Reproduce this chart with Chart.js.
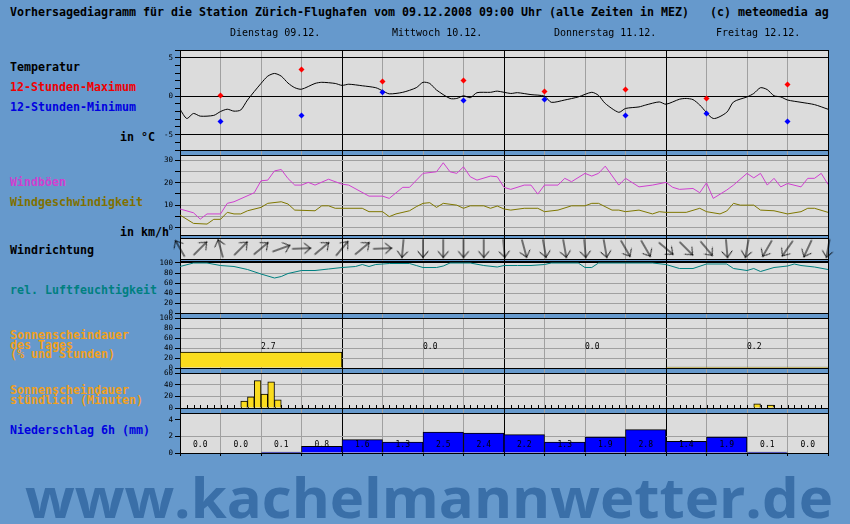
<!DOCTYPE html>
<html><head><meta charset="utf-8">
<script src="https://cdn.jsdelivr.net/npm/chart.js@4.4.1/dist/chart.umd.min.js"></script>
<style>
html,body{margin:0;padding:0;background:#6699CC;}
#wrap{position:relative;width:850px;height:524px;background:#6699CC;overflow:hidden;font-family:"DejaVu Sans Mono",monospace;}
#wrap canvas{position:absolute;}
.lbl{position:absolute;font-family:"DejaVu Sans Mono",monospace;font-weight:bold;font-size:11.63px;line-height:14px;white-space:pre;}
.day{position:absolute;font-family:"DejaVu Sans Mono",monospace;font-size:10px;line-height:12px;white-space:pre;color:#000;top:27px;}
#wm{position:absolute;left:25px;top:468px;font-family:"Open Sans",sans-serif;font-weight:700;font-size:56px;line-height:56px;color:#3A6FA8;white-space:nowrap;transform-origin:0 0;}
</style></head><body>
<div id="wrap">
<div class="lbl" style="left:10px;top:5px;color:#000">Vorhersagediagramm für die Station Zürich-Flughafen vom 09.12.2008 09:00 Uhr (alle Zeiten in MEZ)   (c) meteomedia ag</div>
<div class="lbl" style="left:10px;top:60px;color:#000">Temperatur</div>
<div class="lbl" style="left:10px;top:80px;color:#F00000">12-Stunden-Maximum</div>
<div class="lbl" style="left:10px;top:100px;color:#0000E0">12-Stunden-Minimum</div>
<div class="lbl" style="left:120px;top:130px;color:#000">in °C</div>
<div class="lbl" style="left:10px;top:175px;color:#D040D0">Windböen</div>
<div class="lbl" style="left:10px;top:195px;color:#807000">Windgeschwindigkeit</div>
<div class="lbl" style="left:120px;top:225px;color:#000">in km/h</div>
<div class="lbl" style="left:10px;top:243px;color:#000">Windrichtung</div>
<div class="lbl" style="left:10px;top:283px;color:#008080">rel. Luftfeuchtigkeit</div>
<div class="lbl" style="left:10px;top:331px;color:#F0A020;line-height:9.7px">Sonnenscheindauer<br>des Tages<br>(% und Stunden)</div>
<div class="lbl" style="left:10px;top:386px;color:#F0A020;line-height:9.5px">Sonnenscheindauer<br>stündlich (Minuten)</div>
<div class="lbl" style="left:10px;top:423px;color:#0000E0">Niederschlag 6h (mm)</div>
<div id="wm">www.kachelmannwetter.de</div>
</div>
<script>
// ---------------- data ----------------
const tickLabels = ['01','07','13','19'];
const dayNames = ['Dienstag 09.12.','Mittwoch 10.12.','Donnerstag 11.12.','Freitag 12.12.'];

const tempHours = [0,1,2,3,5,6,7,8,9,10,12,13,14,15,16,17,18,20,21,23,24,25,27,29,30,31,33,35,36,37,38,40,41,42,43,44,46,47,49,50,52,54,55,57,59,61,62,63,65,66,68,69,71,72,74,75,76,77,79,81,82,84,85,86,87,88,89,90,92,94,96];
const temp      = [-1.7,-2.9,-2.25,-2.6,-2.5,-2.0,-1.7,-1.95,-1.8,-0.5,1.65,2.6,2.95,2.6,1.7,1.1,0.9,1.65,1.8,1.65,1.4,1.55,1.35,1.1,0.7,0.3,0.5,1.1,1.8,1.65,0.8,-0.3,-0.3,0.05,-0.2,0.45,0.5,0.65,0.35,0.45,0.2,0,-0.8,-0.5,-0.1,0.5,0.1,-0.95,-2.1,-1.6,-1.4,-1.15,-0.75,-1.05,-0.4,-0.3,-0.45,-1.15,-2.9,-2.1,-0.75,-0.1,0.35,1.1,0.85,0.05,-0.1,-0.5,-0.8,-1.1,-1.7];
const extHours = [6,18,30,42,54,66,78,90];
const tMax = [0.1,3.45,1.9,2.05,0.6,0.85,-0.3,1.5];
const tMin = [-3.3,-2.5,0.5,-0.55,-0.45,-2.5,-2.25,-3.3];

const gustHours = [0,2,3,4,6,7,8,11,12,13,14,15,16,17,18,19,20,22,24,25,28,30,31,33,34,36,38,39,40,41,42,43,44,46,47,48,49,51,52,53,54,56,57,58,60,61,62,63,65,66,68,70,72,73,74,76,77,78,79,81,82,84,85,86,87,88,89,90,92,93,94,95,96];
const gust      = [8.3,6.6,3.8,6.1,6.1,10.8,11.5,15.5,20.8,21.1,25.2,25.8,21.8,18.9,18.9,20.1,18.9,21.5,19.3,18.9,14,14,13,17.9,17.9,24.1,24.8,28.8,24.8,24.1,27,22.6,21.1,22.9,22.6,17.9,17,18.9,18.9,14.9,18.9,18.9,21.9,20.4,24.1,22.9,24.1,27.3,18.9,21.9,18.1,18.9,20.1,17.9,17,17.4,15.5,19.9,13,16.7,18.9,24.1,22.1,24.1,18.9,21.9,18.1,19.6,18.1,21.9,21.9,24.1,19.2];
const windHours = [0,2,4,5,6,7,8,9,10,12,13,15,16,17,20,21,22,23,27,28,30,31,32,34,35,36,37,38,39,41,42,43,45,46,47,48,49,51,53,54,56,58,60,61,62,64,65,66,68,70,71,72,75,77,78,80,81,82,83,85,86,88,90,92,93,94,96];
const wind      = [5.6,1.9,1.6,3.7,3.7,6.8,6.1,6.1,7.5,9,10.8,11.5,10.5,7.8,7.5,9.7,9.7,8.6,8.6,7.1,7.1,4.9,6.1,7.5,9.3,10.8,11.1,9,10.8,10,8.6,9.7,9.7,8.6,9.6,8.3,7.8,8.6,8.6,7.1,7.8,9.7,9.7,10.8,10.8,7.8,7.8,7.1,7.8,6.1,7.1,6.8,6.8,8.6,7.1,6.1,7.4,10.8,10,10,7.8,7.5,6.1,7.1,8.6,8.6,6.8];
// wind direction (degrees, "from"), every 3 hours
const dirFrom = [150,225,165,225,230,250,268,230,220,230,268,5,0,0,0,0,355,345,350,350,355,350,330,330,310,315,320,355,10,30,35,25,10];

const humHours = [0,2,4,6,8,10,12,14,15,16,18,20,22,24,26,27,28,29,31,34,35,36,38,39,40,43,45,47,48,50,52,54,55,59,60,61,62,70,72,74,76,78,81,82,84,85,86,88,90,91,92,94,96];
const hum      = [93,100,100,95,93,87,78,70,73,79,85,85,88,91,93,97,93,97,99,99,95,91,91,94,100,100,95,92,95,95,95,97,100,100,91,91,100,100,97,89,89,98,98,89,85,89,83,91,94,98,95,92,87];

const sunDayHours = [2.7,0.0,0.0,0.2];
const sunDayPct   = [32,0,0,2];
const sunHourX   = [9.5,10.5,11.5,12.5,13.5,14.5,85.5,87.5];
const sunHourMin = [12,19,47,24,45,14,7,5];

const precip = [0.0,0.0,0.1,0.8,1.6,1.3,2.5,2.4,2.2,1.3,1.9,2.8,1.4,1.9,0.1,0.0];

// ---------------- layout helpers ----------------
const wrap = document.getElementById('wrap');
const PAD = 8;
const CW = 710, CL = 130;
function panelCanvas(T, B) {
  const c = document.createElement('canvas');
  const h = B - T + 2 * PAD;
  c.width = CW; c.height = h;
  c.style.left = CL + 'px'; c.style.top = (T - PAD) + 'px';
  c.style.width = CW + 'px'; c.style.height = h + 'px';
  wrap.appendChild(c);
  return c;
}
const MONO = 'DejaVu Sans Mono';
const gridX = c => (c.tick && c.tick.value % 24 === 0) ? '#000000' : '#A0A0A0';
function xPanel() {
  return {type:'linear', min:0, max:96, offset:false,
    ticks:{display:false, stepSize:6, autoSkip:false},
    grid:{color:gridX, drawTicks:false, offset:false, lineWidth:1},
    border:{display:false},
    afterFit(s){ s.height = 0; }};
}
function yPanel(min, max, step, labelFn, gridFn) {
  return {min, max,
    ticks:{stepSize:step, includeBounds:false, autoSkip:false, font:{family:MONO, size:7.5}, color:'#000', padding:2, callback:labelFn},
    grid:{color:gridFn, tickColor:'#000', tickLength:5, drawTicks:true, lineWidth:1},
    border:{display:true, color:'#000'},
    afterFit(s){ s.width = 50; }};
}
function opts(x, y, padLeft) {
  return {responsive:false, maintainAspectRatio:false, animation:false, events:[],
    layout:{padding:{left:padLeft || 0, right:12, top:PAD, bottom:PAD}},
    plugins:{legend:{display:false}, tooltip:{enabled:false}},
    scales:{x, y}};
}
const panelPlugin = {
  id:'panelBg',
  beforeDraw(chart){
    const {ctx, chartArea:a} = chart;
    ctx.save(); ctx.fillStyle = '#DCDCDC';
    ctx.fillRect(a.left, a.top, a.right - a.left, a.bottom - a.top);
    ctx.restore();
  },
  afterDraw(chart){
    const {ctx, chartArea:a} = chart;
    ctx.save(); ctx.strokeStyle = '#000'; ctx.lineWidth = 1;
    ctx.beginPath();
    ctx.moveTo(a.left, Math.round(a.top) + 0.5); ctx.lineTo(a.right + 1, Math.round(a.top) + 0.5);
    ctx.moveTo(a.left, Math.round(a.bottom) + 0.5); ctx.lineTo(a.right + 1, Math.round(a.bottom) + 0.5);
    ctx.stroke(); ctx.restore();
  }
};
function textPlugin(xs, texts, yVal, align) {
  return {id:'vals', afterDatasetsDraw(chart){
    const {ctx, scales:{x, y}} = chart;
    ctx.save(); ctx.font = '8px "' + MONO + '"'; ctx.fillStyle = '#000';
    ctx.textAlign = align; ctx.textBaseline = 'middle';
    xs.forEach((h, i) => ctx.fillText(texts[i], x.getPixelForValue(h), y.getPixelForValue(yVal)));
    ctx.restore();
  }};
}
const hourTicks = {id:'hticks', beforeDatasetsDraw(chart){
  const {ctx, scales:{x}, chartArea:a} = chart;
  ctx.save(); ctx.strokeStyle = '#000'; ctx.lineWidth = 1; ctx.beginPath();
  for (let h = 0; h <= 96; h++) {
    const px = Math.round(x.getPixelForValue(h)) + 0.5;
    ctx.moveTo(px, a.bottom); ctx.lineTo(px, a.bottom - 3);
  }
  ctx.stroke(); ctx.restore();
}};
const pts = (xs, ys) => xs.map((x, i) => ({x, y: ys[i]}));

// ---------------- frame (time axis + vertical lines through gaps) ----------------
const frame = document.createElement('canvas');
frame.width = CW; frame.height = 524;
frame.style.left = CL + 'px'; frame.style.top = '0px';
frame.style.width = CW + 'px'; frame.style.height = '524px';
wrap.appendChild(frame);
new Chart(frame, {
  type:'line', data:{datasets:[]},
  options:{responsive:false, maintainAspectRatio:false, animation:false, events:[],
    layout:{padding:{left:50, right:12, top:50, bottom:70}},
    plugins:{legend:{display:false}, tooltip:{enabled:false}},
    scales:{
      x:{type:'linear', position:'top', min:0, max:96, offset:false,
        ticks:{stepSize:6, autoSkip:false, maxRotation:0, padding:2, font:{family:MONO, size:7}, color:'#000',
          callback:v => tickLabels[(v / 6) % 4]},
        grid:{color:gridX, drawTicks:false},
        border:{display:false},
        afterFit(s){ s.height = 0; }},
      y:{display:false, min:0, max:1}
    }}
});

// day names
dayNames.forEach((d, i) => {
  const el = document.createElement('div');
  el.className = 'day'; el.textContent = d;
  el.style.left = (180 + 162 * i + 50) + 'px';
  wrap.appendChild(el);
});

// ---------------- temperature ----------------
new Chart(panelCanvas(50, 150), {
  type:'line',
  data:{datasets:[
    {data:pts(extHours, tMax), showLine:false, pointStyle:'rectRot', pointRadius:3, backgroundColor:'#FF0000', borderColor:'#FF0000', pointBorderWidth:0},
    {data:pts(extHours, tMin), showLine:false, pointStyle:'rectRot', pointRadius:3, backgroundColor:'#0000FF', borderColor:'#0000FF', pointBorderWidth:0},
    {data:pts(tempHours, temp), borderColor:'#000', borderWidth:1, pointRadius:0, tension:0.25}
  ]},
  options:opts(xPanel(), yPanel(-7, 6, 1, v => v % 5 === 0 ? String(v) : '', c => c.tick.value % 5 === 0 ? '#000' : 'rgba(0,0,0,0)')),
  plugins:[panelPlugin]
});

// ---------------- wind ----------------
new Chart(panelCanvas(155, 235), {
  type:'line',
  data:{datasets:[
    {data:pts(gustHours, gust), borderColor:'#D040D0', borderWidth:1, pointRadius:0, tension:0},
    {data:pts(windHours, wind), borderColor:'#807800', borderWidth:1, pointRadius:0, tension:0}
  ]},
  options:opts(xPanel(), yPanel(-3.25, 32.25, 5, v => v % 10 === 0 ? String(v) : '', () => '#A0A0A0')),
  plugins:[panelPlugin]
});

// ---------------- wind direction ----------------
const arrow = document.createElement('canvas');
arrow.width = 24; arrow.height = 24;
(() => {
  const g = arrow.getContext('2d');
  g.strokeStyle = '#000'; g.lineWidth = 1; g.lineCap = 'round';
  g.beginPath();
  g.moveTo(12, 21); g.lineTo(12, 3);
  g.moveTo(12, 3); g.lineTo(7, 9);
  g.moveTo(12, 3); g.lineTo(17, 9);
  g.stroke();
})();
new Chart(panelCanvas(238, 259), {
  type:'scatter',
  data:{datasets:[
    {data:dirFrom.map((d, i) => ({x:3 * i, y:0.5})), pointStyle:arrow, pointRadius:5,
     pointRotation:c => dirFrom[c.dataIndex] + 180, clip:false}
  ]},
  options:opts(xPanel(), {display:false, min:0, max:1}, 50),
  plugins:[panelPlugin]
});

// ---------------- humidity ----------------
new Chart(panelCanvas(261, 313), {
  type:'line',
  data:{datasets:[
    {data:pts(humHours, hum), borderColor:'#008080', borderWidth:1, pointRadius:0, tension:0}
  ]},
  options:opts(xPanel(), yPanel(0, 104, 20, v => String(v), c => (c.tick.value === 0 || c.tick.value === 100) ? '#000' : '#A0A0A0')),
  plugins:[panelPlugin]
});

// ---------------- sunshine per day ----------------
const dayCenters = sunDayPct.map((_, i) => 12 + 24 * i);
new Chart(panelCanvas(318, 368), {
  type:'bar',
  data:{datasets:[
    {data:pts(dayCenters, sunDayPct), backgroundColor:'#FADC1E', borderColor:'#000', borderWidth:1, barThickness:162}
  ]},
  options:opts(xPanel(), yPanel(0, 100, 20, v => String(v), c => (c.tick.value === 0 || c.tick.value === 100) ? '#000' : '#A0A0A0')),
  plugins:[panelPlugin, textPlugin(dayCenters, sunDayHours.map(v => v.toFixed(1)), 42, 'left')]
});

// ---------------- sunshine per hour ----------------
new Chart(panelCanvas(373, 408), {
  type:'bar',
  data:{datasets:[
    {data:pts(sunHourX, sunHourMin), backgroundColor:'#FADC1E', borderColor:'#000', borderWidth:1, barPercentage:1, categoryPercentage:1}
  ]},
  options:opts(xPanel(), yPanel(0, 60, 20, v => String(v), c => (c.tick.value === 0 || c.tick.value === 60) ? '#000' : '#A0A0A0')),
  plugins:[panelPlugin, hourTicks]
});

// ---------------- precipitation ----------------
const precipX = precip.map((_, i) => 3 + 6 * i);
const xPrec = xPanel();
xPrec.grid.drawTicks = true; xPrec.grid.tickLength = 3; xPrec.grid.tickColor = '#000';
new Chart(panelCanvas(413, 453), {
  type:'bar',
  data:{datasets:[
    {data:pts(precipX, precip), backgroundColor:'#0000FF', borderColor:'#000', borderWidth:1, barPercentage:1, categoryPercentage:1}
  ]},
  options:opts(xPrec, yPanel(0, 4.8, 2, v => String(v), c => c.tick.value === 2 ? '#A0A0A0' : (c.tick.value === 0 ? '#000' : 'rgba(0,0,0,0)'))),
  plugins:[panelPlugin, textPlugin(precipX, precip.map(v => v.toFixed(1)), 1.0, 'center')]
});

// watermark fit
const wm = document.getElementById('wm');
const ww = wm.getBoundingClientRect().width;
wm.style.transform = 'scaleX(' + (808 / ww) + ')';
</script>
</body></html>
